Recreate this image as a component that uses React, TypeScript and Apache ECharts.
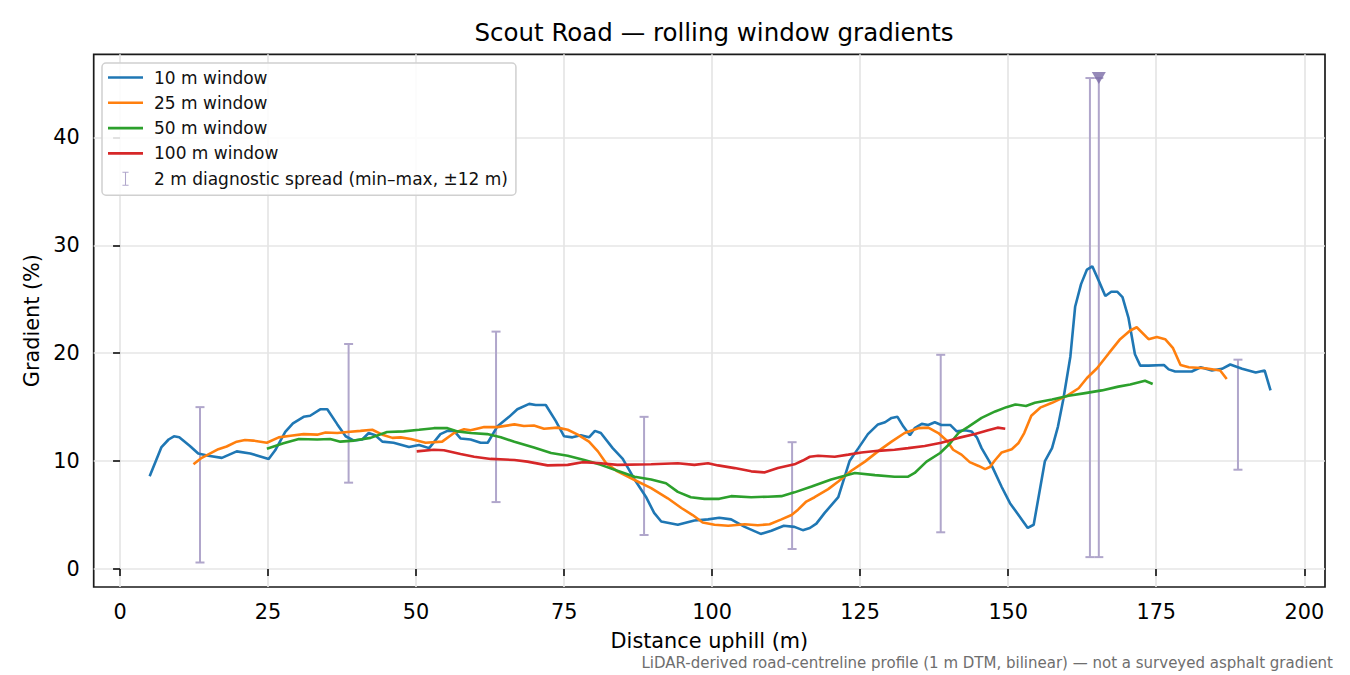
import * as echarts from "echarts";
import { useEffect, useRef } from "react";

// rolling-window gradient profiles, [distance m, gradient %]
const win10: [number, number][] = [
  [5.0, 8.6], [7.0, 11.3], [8.2, 12.0], [9.1, 12.3], [10.0, 12.2], [11.8, 11.4], [13.2, 10.7],
  [14.9, 10.5], [17.2, 10.3], [19.7, 10.9], [22.0, 10.7], [25.1, 10.2], [26.2, 11.0], [27.9, 12.7],
  [29.2, 13.5], [31.0, 14.1], [32.1, 14.2], [33.8, 14.8], [35.0, 14.8], [36.7, 13.4], [38.1, 12.3],
  [39.5, 11.9], [40.9, 12.0], [42.0, 12.6], [43.1, 12.4], [44.3, 11.8], [46.2, 11.7], [48.8, 11.3],
  [50.5, 11.5], [52.2, 11.2], [54.1, 12.5], [55.3, 12.8], [56.4, 12.8], [57.5, 12.1], [59.2, 12.0],
  [60.9, 11.7], [62.1, 11.7], [63.7, 13.2], [65.7, 14.1], [67.1, 14.8], [69.1, 15.3], [70.2, 15.2],
  [71.9, 15.2], [73.6, 13.7], [75.0, 12.3], [76.4, 12.2], [77.8, 12.4], [79.2, 12.2], [80.2, 12.8],
  [81.2, 12.6], [83.2, 11.2], [84.9, 10.2], [86.9, 8.3], [88.8, 6.7], [90.2, 5.2], [91.4, 4.4],
  [94.2, 4.1], [97.0, 4.5], [99.3, 4.6], [101.2, 4.75], [103.2, 4.6], [105.5, 3.9], [108.2, 3.25],
  [110.0, 3.55], [112.1, 4.0], [113.9, 3.9], [115.3, 3.6], [116.5, 3.8], [117.6, 4.2], [119.0, 5.2],
  [121.3, 6.65], [123.2, 10.0], [124.7, 11.2], [126.3, 12.5], [128.0, 13.4], [129.2, 13.6],
  [130.3, 14.0], [131.3, 14.1], [132.3, 13.2], [133.4, 12.4], [134.2, 13.05], [135.4, 13.45],
  [136.5, 13.35], [137.6, 13.6], [138.7, 13.35], [140.2, 13.35], [141.3, 12.75], [142.7, 12.85],
  [143.8, 12.75], [144.7, 12.2], [145.5, 11.2], [147.2, 9.6], [148.9, 7.6], [150.3, 6.1],
  [153.3, 3.8], [154.3, 4.1], [156.2, 10.0], [157.4, 11.2], [158.4, 13.2], [159.3, 15.7],
  [160.5, 19.7], [161.3, 24.3], [162.3, 26.4], [163.3, 27.75], [164.2, 28.05], [165.3, 26.7],
  [166.4, 25.3], [167.4, 25.7], [168.4, 25.7], [169.3, 25.2], [170.3, 23.3], [171.4, 19.9],
  [172.3, 18.85], [173.7, 18.85], [176.3, 18.9], [177.1, 18.5], [178.2, 18.3], [181.0, 18.3],
  [182.5, 18.7], [184.4, 18.4], [186.1, 18.55], [187.5, 18.95], [189.5, 18.55], [191.8, 18.2],
  [193.3, 18.4], [194.3, 16.55],
];

const win25: [number, number][] = [
  [12.4, 9.7], [13.8, 10.3], [16.6, 11.1], [18.0, 11.35], [19.7, 11.8], [21.1, 11.95], [22.5, 11.9],
  [24.8, 11.7], [26.8, 12.2], [28.8, 12.35], [31.0, 12.5], [33.3, 12.45], [34.7, 12.65], [36.7, 12.6],
  [38.4, 12.7], [40.6, 12.8], [42.6, 12.9], [44.3, 12.45], [46.0, 12.15], [47.4, 12.2], [49.1, 12.05],
  [51.6, 11.7], [54.4, 11.8], [56.4, 12.6], [58.1, 12.95], [59.2, 12.85], [61.5, 13.15], [63.7, 13.15],
  [66.6, 13.4], [68.2, 13.25], [69.9, 13.3], [71.6, 13.0], [73.9, 13.1], [75.6, 12.9], [77.3, 12.45],
  [79.2, 11.8], [80.7, 10.9], [82.1, 9.8], [84.0, 9.05], [86.9, 8.25], [89.7, 7.5], [92.5, 6.55],
  [94.8, 5.65], [96.7, 5.0], [98.4, 4.3], [100.4, 4.1], [102.7, 4.0], [105.5, 4.15], [107.7, 4.05],
  [109.7, 4.15], [111.7, 4.6], [113.4, 5.0], [114.5, 5.5], [115.9, 6.25], [117.3, 6.65], [119.6, 7.4],
  [121.3, 8.1], [123.5, 9.1], [125.8, 9.95], [128.0, 10.9], [130.3, 11.8], [132.5, 12.6],
  [134.8, 13.05], [136.5, 13.1], [138.2, 12.6], [139.6, 11.9], [140.7, 11.05], [142.1, 10.6],
  [143.5, 9.9], [145.0, 9.55], [146.1, 9.25], [146.9, 9.45], [147.8, 10.1], [148.9, 10.8],
  [150.6, 11.1], [151.7, 11.65], [152.7, 12.6], [153.9, 14.2], [155.4, 14.95], [157.4, 15.4],
  [159.9, 16.05], [161.9, 16.75], [163.3, 17.7], [165.0, 18.6], [167.0, 20.0], [168.9, 21.3],
  [170.6, 22.1], [171.7, 22.4], [173.7, 21.3], [175.1, 21.5], [176.5, 21.3], [177.8, 20.5],
  [179.1, 18.9], [180.5, 18.7], [183.3, 18.6], [185.8, 18.4], [186.9, 17.6],
];

const win50: [number, number][] = [
  [24.8, 11.15], [27.6, 11.65], [30.2, 12.05], [33.3, 12.0], [35.5, 12.05], [37.2, 11.8], [39.5, 11.9],
  [42.3, 12.15], [45.1, 12.7], [47.9, 12.75], [50.5, 12.9], [53.0, 13.05], [55.3, 13.05], [57.0, 12.75],
  [59.2, 12.6], [62.0, 12.5], [64.3, 12.2], [66.6, 11.8], [69.9, 11.25], [72.8, 10.75], [75.6, 10.5],
  [78.4, 10.1], [81.2, 9.65], [84.0, 9.1], [86.9, 8.55], [89.7, 8.3], [92.2, 7.95], [94.2, 7.15],
  [96.4, 6.65], [98.7, 6.5], [101.2, 6.5], [103.2, 6.75], [106.6, 6.65], [109.4, 6.7], [111.7, 6.75],
  [113.9, 7.1], [116.8, 7.65], [120.1, 8.3], [122.4, 8.65], [124.1, 8.9], [127.5, 8.7], [130.8, 8.55],
  [133.1, 8.55], [134.2, 8.9], [136.2, 9.95], [138.5, 10.75], [140.2, 11.65], [141.6, 12.6],
  [143.3, 13.2], [145.5, 14.0], [147.8, 14.6], [149.7, 15.0], [151.2, 15.25], [153.0, 15.1],
  [154.5, 15.4], [157.4, 15.7], [160.2, 16.05], [163.0, 16.3], [165.8, 16.55], [168.6, 16.9],
  [170.6, 17.1], [173.1, 17.45], [174.4, 17.15],
];

const win100: [number, number][] = [
  [50.1, 10.9], [53.0, 11.05], [54.7, 11.0], [57.5, 10.65], [59.8, 10.4], [62.6, 10.2], [66.6, 10.1],
  [68.8, 9.95], [72.2, 9.6], [75.6, 9.65], [78.1, 9.9], [81.2, 9.8], [84.0, 9.65], [89.7, 9.7],
  [94.2, 9.8], [97.0, 9.65], [99.3, 9.8], [101.0, 9.6], [103.8, 9.35], [106.6, 9.05], [108.8, 8.95],
  [111.1, 9.35], [113.9, 9.7], [115.3, 10.05], [116.5, 10.4], [117.9, 10.5], [120.7, 10.4],
  [123.0, 10.6], [125.2, 10.8], [128.0, 10.95], [130.8, 11.05], [133.1, 11.2], [135.9, 11.4],
  [138.7, 11.7], [141.6, 12.15], [144.4, 12.5], [146.6, 12.85], [148.2, 13.1], [149.5, 13.0],
];

// 2 m diagnostic spread: [centre, min, max]
const spread: [number, number, number][] = [
  [13.5, 0.6, 15.0], [38.6, 8.0, 20.85], [63.5, 6.2, 22.0], [88.5, 3.15, 14.1],
  [113.5, 1.85, 11.75], [138.6, 3.4, 19.85], [163.8, 1.1, 45.5], [165.3, 1.1, 45.5],
  [188.8, 9.2, 19.4],
];
const peak: [number, number][] = [[165.3, 45.5]];

const xTicks = [0, 25, 50, 75, 100, 125, 150, 175, 200];
const yTicks = [0, 10, 20, 30, 40];

const FONT = "DejaVu Sans";
const SPREAD_COLOR = "#b0a6cb";
const SPREAD_NAME = "2 m diagnostic spread (min–max, ±12 m)";
const LINE_ICON = "path://M0,0H35V2.6H0Z";

function lineSeries(name: string, data: [number, number][], color: string) {
  return {
    name,
    type: "line",
    data,
    symbol: "none",
    z: 3,
    lineStyle: { color, width: 2.6 },
    itemStyle: { color },
  };
}

export default function App() {
  const ref = useRef<HTMLDivElement>(null);

  useEffect(() => {
    if (!ref.current) return;
    const chart = echarts.init(ref.current, null, { renderer: "svg" });

    chart.setOption({
      animation: false,
      backgroundColor: "#fff",
      textStyle: { fontFamily: FONT },
      title: [
        {
          text: "Scout Road — rolling window gradients",
          left: 709,
          top: 15,
          textAlign: "center",
          textStyle: { fontFamily: FONT, fontSize: 24.5, fontWeight: "normal", color: "#000" },
        },
        {
          text: "LiDAR-derived road-centreline profile (1 m DTM, bilinear) — not a surveyed asphalt gradient",
          right: 12,
          top: 650,
          textStyle: { fontFamily: FONT, fontSize: 15, fontWeight: "normal", color: "#6e6e6e" },
        },
      ],
      legend: {
        orient: "vertical",
        left: 102,
        top: 63,
        padding: [6, 8, 8, 6],
        itemGap: 8.3,
        itemWidth: 35,
        itemHeight: 14,
        backgroundColor: "rgba(255,255,255,0.85)",
        borderColor: "#d0d0d0",
        borderWidth: 1.5,
        borderRadius: 4,
        textStyle: { fontFamily: FONT, fontSize: 17, color: "#111", padding: [0, 0, 0, 6] },
        data: [
          { name: "10 m window", icon: LINE_ICON },
          { name: "25 m window", icon: LINE_ICON },
          { name: "50 m window", icon: LINE_ICON },
          { name: "100 m window", icon: LINE_ICON },
          {
            name: SPREAD_NAME,
            icon: "path://M0,0H7V1.2H4.1V14.8H7V16H0V14.8H2.9V1.2H0Z",
            itemStyle: { color: SPREAD_COLOR },
          },
        ],
      },
      grid: {
        left: 93.7,
        right: 25,
        top: 54.3,
        bottom: 88,
        show: true,
        borderColor: "#1a1a1a",
        borderWidth: 1.7,
        backgroundColor: "transparent",
      },
      xAxis: {
        type: "value",
        min: -4.45,
        max: 203.5,
        name: "Distance uphill (m)",
        nameLocation: "middle",
        nameGap: 43,
        nameTextStyle: { fontFamily: FONT, fontSize: 20.8, color: "#000" },
        axisLine: { show: false },
        axisTick: { show: true, length: 7, customValues: xTicks, lineStyle: { color: "#1a1a1a", width: 1.7 } },
        axisLabel: { customValues: xTicks, margin: 14, fontFamily: FONT, fontSize: 20.8, color: "#000" },
        splitLine: { show: true, lineStyle: { color: "#e6e6e6", width: 1.7 } },
      },
      yAxis: {
        type: "value",
        min: -1.67,
        max: 47.7,
        name: "Gradient (%)",
        nameLocation: "middle",
        nameGap: 50,
        nameRotate: 90,
        nameTextStyle: { fontFamily: FONT, fontSize: 20.8, color: "#000" },
        axisLine: { show: false },
        axisTick: { show: true, length: 7, customValues: yTicks, lineStyle: { color: "#1a1a1a", width: 1.7 } },
        axisLabel: { customValues: yTicks, margin: 14, fontFamily: FONT, fontSize: 20.8, color: "#000" },
        splitLine: { show: true, lineStyle: { color: "#e6e6e6", width: 1.7 } },
      },
      series: [
        lineSeries("10 m window", win10, "#1f77b4"),
        lineSeries("25 m window", win25, "#ff7f0e"),
        lineSeries("50 m window", win50, "#2ca02c"),
        lineSeries("100 m window", win100, "#d62728"),
        {
          name: SPREAD_NAME,
          type: "custom",
          data: spread,
          encode: { x: 0, y: [1, 2] },
          itemStyle: { color: SPREAD_COLOR },
          z: 2,
          renderItem: (_params: any, api: any) => {
            const x = api.value(0);
            const top = api.coord([x, api.value(2)]);
            const bot = api.coord([x, api.value(1)]);
            const cap = 4.5;
            const style = { stroke: SPREAD_COLOR, lineWidth: 2 };
            return {
              type: "group",
              children: [
                { type: "line", shape: { x1: top[0], y1: top[1], x2: bot[0], y2: bot[1] }, style },
                { type: "line", shape: { x1: top[0] - cap, y1: top[1], x2: top[0] + cap, y2: top[1] }, style },
                { type: "line", shape: { x1: bot[0] - cap, y1: bot[1], x2: bot[0] + cap, y2: bot[1] }, style },
              ],
            };
          },
        },
        {
          name: "peak",
          type: "scatter",
          data: peak,
          symbol: "triangle",
          symbolRotate: 180,
          symbolSize: [14, 12],
          itemStyle: { color: "#7b6ca6" },
          z: 4,
        },
      ],
    });

    return () => chart.dispose();
  }, []);

  return (
    <div
      ref={ref}
      style={{ position: "fixed", left: 0, top: 0, width: 1350, height: 675 }}
    />
  );
}
